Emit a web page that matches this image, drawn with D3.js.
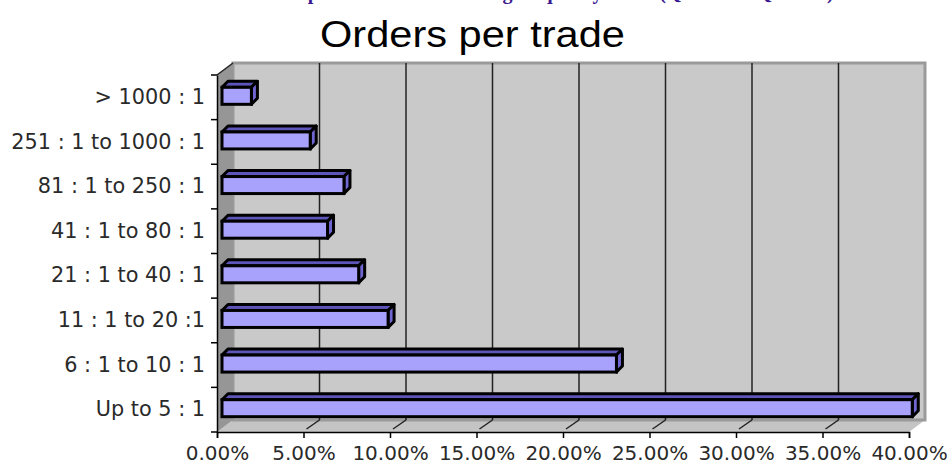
<!DOCTYPE html>
<html>
<head>
<meta charset="utf-8">
<script src="https://cdn.jsdelivr.net/npm/d3@7"></script>
<style>
  body { margin: 0; background: #fff; }
  svg { display: block; }
</style>
</head>
<body>
<div id="chart"></div>
<script>
// data (percent of trades)
var categories = ["Up to 5 : 1", "6 : 1 to 10 : 1", "11 : 1 to 20 :1", "21 : 1 to 40 : 1",
                  "41 : 1 to 80 : 1", "81 : 1 to 250 : 1", "251 : 1 to 1000 : 1", "> 1000 : 1"];
var shares = [39.9, 22.8, 9.6, 7.9, 6.1, 7.05, 5.1, 1.7];
var xTicks = [0, 5, 10, 15, 20, 25, 30, 35, 40];
var chartTitle = "Orders per trade";
var pageHeading = "Developments in order trading frequency levels (Q4 2008 \u2013 Q1 2009)";

function drawChart() {
    var width = 950, height = 464;
    var pLeft = 217, pRight = 909, pTop = 75, pBottom = 432;
    var dx = 16, dy = -12;      // wall depth
    var bdx = 6, bdy = -6;      // bar depth
    var bx = 5;                 // bar offset from front plane

    var svg = d3.select("#chart").append("svg")
        .attr("width", width)
        .attr("height", height);

    var x = d3.scaleLinear().domain([0, 40]).range([pLeft, pRight]);
    var y = d3.scaleBand().domain(categories.slice().reverse()).range([pTop, pBottom]);

    var fmt = function (d) { return d3.format(".2f")(d) + "%"; };
    var pts = function (a) { return a.map(function (p) { return p.join(","); }).join(" "); };

    // cut-off heading of the page above the chart
    svg.append("text")
        .attr("x", 250)
        .attr("y", -1)
        .attr("font-family", "Liberation Serif")
        .attr("font-weight", "bold")
        .attr("font-size", 20)
        .attr("fill", "#3a1890")
        .text(pageHeading);

    svg.append("text")
        .attr("x", 320)
        .attr("y", 47)
        .attr("font-family", "Liberation Sans")
        .attr("font-size", 36)
        .attr("textLength", 305)
        .attr("lengthAdjust", "spacingAndGlyphs")
        .attr("fill", "#000")
        .text(chartTitle);

    // walls
    svg.append("polygon")
        .attr("points", pts([[pLeft, pBottom], [pLeft + dx, pBottom + dy], [pRight + dx, pBottom + dy], [pRight, pBottom]]))
        .attr("fill", "#c4c4c4");

    svg.append("polygon")
        .attr("points", pts([[pLeft + dx, pTop + dy], [pRight + dx, pTop + dy], [pRight + dx, pBottom + dy], [pLeft + dx, pBottom + dy]]))
        .attr("fill", "#c9c9c9")
        .attr("stroke", "#9a9a9a")
        .attr("stroke-width", 3);

    svg.append("polygon")
        .attr("points", pts([[pLeft, pTop], [pLeft + dx, pTop + dy], [pLeft + dx, pBottom + dy], [pLeft, pBottom]]))
        .attr("fill", "#969696");

    // gridlines on back wall and floor
    var grid = svg.append("g").attr("stroke", "#222").attr("stroke-width", 1.5);
    grid.selectAll(".gv").data(xTicks.slice(1, -1)).enter().append("line")
        .attr("x1", function (d) { return x(d) + dx; })
        .attr("x2", function (d) { return x(d) + dx; })
        .attr("y1", pTop + dy)
        .attr("y2", pBottom + dy);
    grid.selectAll(".gf").data(xTicks.slice(1, -1)).enter().append("line")
        .attr("x1", function (d) { return x(d) + 3; })
        .attr("y1", pBottom - 3)
        .attr("x2", function (d) { return x(d) + dx; })
        .attr("y2", pBottom + dy);

    // bars
    var bars = svg.append("g").selectAll("g").data(categories).enter().append("g");
    bars.each(function (c, i) {
        var g = d3.select(this);
        var cy = y(c) + y.bandwidth() / 2;
        var x0 = x(0) + bx, x1 = x(shares[i]) + bx;
        var y0 = cy - 10, y1 = cy + 7;
        g.append("polygon")
            .attr("points", pts([[x0, y0], [x0 + bdx, y0 + bdy], [x1 + bdx, y0 + bdy], [x1, y0]]))
            .attr("fill", "#5e55b8").attr("stroke", "#000").attr("stroke-width", 3).attr("stroke-linejoin", "round");
        g.append("polygon")
            .attr("points", pts([[x1, y0], [x1 + bdx, y0 + bdy], [x1 + bdx, y1 + bdy], [x1, y1]]))
            .attr("fill", "#7066d2").attr("stroke", "#000").attr("stroke-width", 3).attr("stroke-linejoin", "round");
        g.append("rect")
            .attr("x", x0).attr("y", y0)
            .attr("width", x1 - x0).attr("height", y1 - y0)
            .attr("fill", "#a9a2fd").attr("stroke", "#000").attr("stroke-width", 3);
    });

    // axes
    var xAxis = svg.append("g")
        .attr("transform", "translate(0," + pBottom + ")")
        .call(d3.axisBottom(x).tickValues(xTicks).tickFormat(fmt).tickSize(6).tickPadding(8));
    var yAxis = svg.append("g")
        .attr("transform", "translate(" + pLeft + ",0)")
        .call(d3.axisLeft(y).tickSize(0).tickPadding(12));

    // category boundary ticks
    svg.append("g").selectAll("line").data(d3.range(categories.length + 1)).enter().append("line")
        .attr("x1", pLeft - 6).attr("x2", pLeft)
        .attr("y1", function (d) { return pTop + d * y.step(); })
        .attr("y2", function (d) { return pTop + d * y.step(); })
        .attr("stroke", "#000").attr("stroke-width", 1.5);

    svg.append("line")
        .attr("x1", pLeft).attr("y1", pTop).attr("x2", pLeft + dx).attr("y2", pTop + dy)
        .attr("stroke", "#222").attr("stroke-width", 1.5);

    [xAxis, yAxis].forEach(function (a) {
        a.select(".domain").attr("stroke", "#000").attr("stroke-width", 1.5);
        a.selectAll(".tick line").attr("stroke", "#000").attr("stroke-width", 1.5);
        a.selectAll("text")
            .attr("font-family", "DejaVu Sans")
            .attr("font-size", 20)
            .attr("fill", "#2a2a2a");
    });
    yAxis.selectAll("text").attr("font-size", 20.8);
    xAxis.selectAll("text").attr("dy", "0.71em");
}

drawChart();
</script>
</body>
</html>
